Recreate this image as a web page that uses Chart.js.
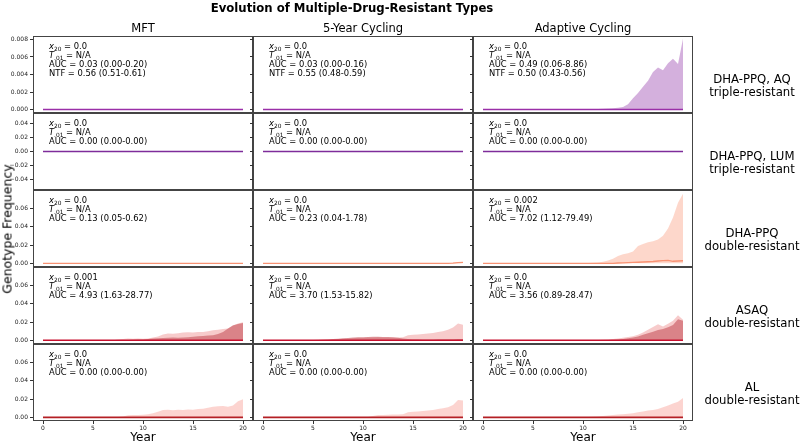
<!DOCTYPE html>
<html>
<head>
<meta charset="utf-8">
<script src="https://cdn.jsdelivr.net/npm/chart.js"></script>
<style>
  body { margin: 0; background: #fff; font-family: "DejaVu Sans", sans-serif; }
  #fig { position: relative; width: 800px; height: 443px; overflow: hidden; }
  #fig canvas { position: absolute; }
  .lbl { position: absolute; white-space: nowrap; color: #000; transform: translate(-50%, -50%); text-align: center; }
</style>
</head>
<body>
<div id="fig"></div>
<script>
// ---- data ----
const YEARS = [0,0.5,1,1.5,2,2.5,3,3.5,4,4.5,5,5.5,6,6.5,7,7.5,8,8.5,9,9.5,10,
  10.5,11,11.5,12,12.5,13,13.5,14,14.5,15,15.5,16,16.5,17,17.5,18,18.5,19,19.5,20];
const ZERO = [0,0,0,0,0,0,0,0,0,0,0,0,0,0,0,0,0,0,0,0,0,
  0,0,0,0,0,0,0,0,0,0,0,0,0,0,0,0,0,0,0,0];

const STRATEGIES = ['MFT', '5-Year Cycling', 'Adaptive Cycling'];
const GENOTYPES = [
  ['DHA-PPQ, AQ', 'triple-resistant'],
  ['DHA-PPQ, LUM', 'triple-resistant'],
  ['DHA-PPQ', 'double-resistant'],
  ['ASAQ', 'double-resistant'],
  ['AL', 'double-resistant']
];
const X_TICKS = [0, 5, 10, 15, 20];
const Y_TICKS = [
  [0, 0.002, 0.004, 0.006, 0.008],
  [-0.04, -0.02, 0, 0.02, 0.04],
  [0, 0.02, 0.04, 0.06],
  [0, 0.02, 0.04, 0.06],
  [0, 0.02, 0.04, 0.06]
];
const Y_RANGE = [[-0.0004, 0.0084], [-0.055, 0.055], [-0.004, 0.08], [-0.004, 0.08], [-0.004, 0.08]];
const Y_DEC = [3, 2, 2, 2, 2];

const X20 = [
  ['0.0', '0.0', '0.0'],
  ['0.0', '0.0', '0.0'],
  ['0.0', '0.0', '0.002'],
  ['0.001', '0.0', '0.0'],
  ['0.0', '0.0', '0.0']
];
const AUC = [
  ['0.03 (0.00-0.20)', '0.03 (0.00-0.16)', '0.49 (0.06-8.86)'],
  ['0.00 (0.00-0.00)', '0.00 (0.00-0.00)', '0.00 (0.00-0.00)'],
  ['0.13 (0.05-0.62)', '0.23 (0.04-1.78)', '7.02 (1.12-79.49)'],
  ['4.93 (1.63-28.77)', '3.70 (1.53-15.82)', '3.56 (0.89-28.47)'],
  ['0.00 (0.00-0.00)', '0.00 (0.00-0.00)', '0.00 (0.00-0.00)']
];
const NTF = ['0.56 (0.51-0.61)', '0.55 (0.48-0.59)', '0.50 (0.43-0.56)'];

// DHA-PPQ, AQ triple - adaptive cycling upper band
const AQ_ADAPT_HI = [0,0,0,0,0,0,0,0,0,0,0,0,0,0,0,0,0,0,0,0,0,
  0.00002,0.00004,0.00006,0.0001,0.00012,0.00015,0.0002,0.0003,0.0006,0.0013,
  0.0019,0.0026,0.0033,0.0043,0.0048,0.0045,0.0053,0.0058,0.0052,0.0081];

// DHA-PPQ double
const PPQ_MFT_HI = [0,0,0,0,0,0,0,0,0,0,0,0,0,0,0,0,0,0,0,0,0,
  0,0,0,0,0,0,0,0,0,0,0,0,0,0,0,0,0.0002,0.0003,0.0004,0.0005];
const PPQ_CYC_HI = [0,0,0,0,0,0,0,0,0,0,0,0,0,0,0,0,0,0,0,0,0,
  0,0,0,0,0,0,0,0,0,0,0,0,0,0,0,0,0.0003,0.0006,0.0012,0.0015];
const PPQ_CYC_MED = [0,0,0,0,0,0,0,0,0,0,0,0,0,0,0,0,0,0,0,0,0,
  0,0,0,0,0,0,0,0,0,0,0,0,0,0,0,0,0,0.0002,0.0008,0.001];
const PPQ_ADAPT_HI = [0,0,0,0,0,0,0,0,0,0,0,0,0,0,0,0,0,0,0,0,0,
  0.0003,0.0006,0.001,0.0018,0.003,0.005,0.008,0.010,0.011,0.013,
  0.019,0.021,0.023,0.024,0.026,0.030,0.038,0.050,0.066,0.076];
const PPQ_ADAPT_MED = [0,0,0,0,0,0,0,0,0,0,0,0,0,0,0,0,0,0,0,0,0,
  0,0,0,0,0,0,0.0003,0.0005,0.0008,0.001,
  0.0012,0.0015,0.0018,0.002,0.0025,0.003,0.0032,0.0022,0.0025,0.0028];

// ASAQ double (two genotypes)
const ASAQ_MFT_A = [0,0,0,0,0,0,0,0,0,0,0,0,0,0,0,0.0008,0.0015,0.002,0.0018,0.002,0.0018,
  0.002,0.003,0.0042,0.0065,0.0075,0.0072,0.0078,0.0085,0.0088,0.0085,
  0.009,0.0092,0.0098,0.011,0.0115,0.0125,0.013,0.016,0.0185,0.0198];
const ASAQ_MFT_B = [0,0,0,0,0,0,0,0,0,0,0,0,0,0,0,0,0.0003,0.0005,0.0006,0.0008,0.001,
  0.0015,0.002,0.0022,0.0025,0.0028,0.003,0.0028,0.003,0.0035,0.004,
  0.0044,0.0048,0.0052,0.0056,0.007,0.009,0.013,0.0165,0.0178,0.019];
const ASAQ_CYC_A = [0,0,0,0,0,0,0,0,0,0.0003,0.0005,0.0007,0.0008,0.001,0.0012,0.0015,0.0018,0.002,0.0024,0.0027,0.0029,
  0.003,0.0032,0.0033,0.0032,0.003,0.0032,0.003,0.0035,0.0055,0.0062,
  0.0065,0.007,0.0074,0.008,0.009,0.0098,0.0115,0.014,0.0185,0.017];
const ASAQ_CYC_B = [0,0,0,0,0,0,0,0,0,0,0,0.0003,0.0006,0.001,0.0014,0.0018,0.0022,0.0026,0.003,0.0033,0.0035,
  0.0037,0.0038,0.0038,0.0036,0.0036,0.0033,0.0028,0.002,0.0015,0.0012,
  0.0011,0.001,0.001,0.001,0.0011,0.0012,0.0012,0.0013,0.0015,0.0015];
const ASAQ_ADAPT_A = [0,0,0,0,0,0,0,0,0,0,0,0,0,0,0,0,0,0,0,0,0,
  0,0,0.0003,0.0006,0.001,0.0014,0.002,0.0028,0.0036,0.0045,
  0.006,0.0085,0.0115,0.0145,0.0175,0.015,0.018,0.0215,0.0275,0.0225];
const ASAQ_ADAPT_B = [0,0,0,0,0,0,0,0,0,0,0,0,0,0,0,0,0,0,0,0,0,
  0,0,0,0,0.0003,0.0006,0.001,0.0015,0.0022,0.003,
  0.0042,0.006,0.0078,0.0095,0.0112,0.0125,0.0142,0.0167,0.023,0.0215];

// AL double
const AL_MFT_HI = [0,0,0,0,0,0,0,0,0,0,0,0,0,0,0,0.0005,0.001,0.0022,0.0026,0.0025,0.0027,
  0.0035,0.0045,0.006,0.008,0.0082,0.0078,0.0082,0.008,0.0085,0.0082,
  0.009,0.0095,0.0105,0.0115,0.012,0.0125,0.0115,0.013,0.0175,0.0198];
const AL_CYC_HI = [0,0,0,0,0,0,0,0,0,0,0,0,0,0,0,0,0,0,0,0,0,
  0.0005,0.0015,0.0025,0.0026,0.0028,0.003,0.0032,0.0035,0.0055,0.0062,
  0.0065,0.007,0.0074,0.008,0.0092,0.0098,0.011,0.0135,0.019,0.0185];
const AL_ADAPT_HI = [0,0,0,0,0,0,0,0,0,0,0,0,0,0,0,0,0,0,0,0,0,
  0.0003,0.0006,0.001,0.0015,0.002,0.0025,0.003,0.0035,0.004,0.0045,
  0.0055,0.0065,0.0075,0.008,0.009,0.011,0.013,0.015,0.017,0.021];

// median + bands (bands listed back to front)
const SERIES = [
  [{median: ZERO, bands: []}, {median: ZERO, bands: []}, {median: ZERO, bands: [AQ_ADAPT_HI]}],
  [{median: ZERO, bands: []}, {median: ZERO, bands: []}, {median: ZERO, bands: []}],
  [{median: ZERO, bands: [PPQ_MFT_HI]}, {median: PPQ_CYC_MED, bands: [PPQ_CYC_HI]}, {median: PPQ_ADAPT_MED, bands: [PPQ_ADAPT_HI]}],
  [{median: ZERO, bands: [ASAQ_MFT_A, ASAQ_MFT_B]}, {median: ZERO, bands: [ASAQ_CYC_A, ASAQ_CYC_B]}, {median: ZERO, bands: [ASAQ_ADAPT_A, ASAQ_ADAPT_B]}],
  [{median: ZERO, bands: [AL_MFT_HI]}, {median: ZERO, bands: [AL_CYC_HI]}, {median: ZERO, bands: [AL_ADAPT_HI]}]
];

// ---- styling / layout ----
const ROW_STYLE = [
  {line: '#9a2fa8', lw: 1.6, fills: ['rgba(160,80,180,0.45)']},
  {line: '#7e2c9a', lw: 1.6, fills: []},
  {line: '#f79273', lw: 1.4, fills: ['rgba(250,160,130,0.42)']},
  {line: '#c8102e', lw: 1.5, fills: ['rgba(238,140,140,0.45)', 'rgba(185,45,55,0.45)']},
  {line: '#b41f24', lw: 1.7, fills: ['rgba(248,160,150,0.45)']}
];
const COL_LEFT = [33, 253, 473];
const COL_W = 220;
const ROW_TOP = [36, 113, 190, 267, 344];
const ROW_H = 77;
const AX_W = 33;
const X_H = 14;
const FONT = '"DejaVu Sans", sans-serif';

const fig = document.getElementById('fig');

function addLabel(text, x, y, css) {
  const d = document.createElement('div');
  d.className = 'lbl';
  d.innerHTML = text;
  d.style.left = x + 'px';
  d.style.top = y + 'px';
  Object.assign(d.style, css || {});
  fig.appendChild(d);
}

function fmt(v, dec) {
  return (v < 0 ? '\u2212' : '') + Math.abs(v).toFixed(dec);
}

const frame = {
  id: 'frame',
  afterDraw(chart) {
    const {ctx, chartArea: a} = chart;
    ctx.save();
    ctx.strokeStyle = '#444';
    ctx.lineWidth = 1;
    ctx.strokeRect(Math.round(a.left) + 0.5, Math.round(a.top) + 0.5,
      Math.round(a.right - a.left) - 1, Math.round(a.bottom - a.top) - 1);
    ctx.restore();
  }
};

const statsText = {
  id: 'statsText',
  afterDraw(chart, args, opts) {
    const {ctx, chartArea: a} = chart;
    const r = opts.r, c = opts.c;
    const fs = 8.4;
    const x0 = a.left + 16;
    let y = a.top + 13;
    ctx.save();
    ctx.fillStyle = '#000';
    ctx.textBaseline = 'alphabetic';
    ctx.textAlign = 'left';
    function sub(main, s, rest) {
      let x = x0;
      ctx.font = 'italic ' + fs + 'px ' + FONT;
      ctx.fillText(main, x, y);
      x += ctx.measureText(main).width;
      ctx.font = (fs * 0.7) + 'px ' + FONT;
      ctx.fillText(s, x, y + 2);
      x += ctx.measureText(s).width;
      ctx.font = fs + 'px ' + FONT;
      ctx.fillText(rest, x, y);
    }
    sub('x', '20', ' = ' + X20[r][c]);
    y += 9;
    sub('T', '.01', ' = N/A');
    y += 9;
    ctx.font = fs + 'px ' + FONT;
    ctx.fillText('AUC = ' + AUC[r][c], x0, y);
    if (r === 0) {
      y += 9;
      ctx.fillText('NTF = ' + NTF[c], x0, y);
    }
    ctx.restore();
  }
};

function makePanel(r, c) {
  const bottom = r === SERIES.length - 1;
  const W = AX_W + COL_W, H = ROW_H + (bottom ? X_H : 0);
  const cv = document.createElement('canvas');
  cv.width = W; cv.height = H;
  cv.style.left = (COL_LEFT[c] - AX_W) + 'px';
  cv.style.top = ROW_TOP[r] + 'px';
  cv.style.width = W + 'px';
  cv.style.height = H + 'px';
  fig.appendChild(cv);

  const s = SERIES[r][c], st = ROW_STYLE[r];
  const pts = arr => YEARS.map((x, i) => ({x: x, y: arr[i]}));
  const datasets = [{
    data: pts(s.median), borderColor: st.line, borderWidth: st.lw,
    pointRadius: 0, fill: false
  }];
  for (let k = s.bands.length - 1; k >= 0; k--) {
    datasets.push({
      data: pts(s.bands[k]), borderColor: 'rgba(0,0,0,0)', borderWidth: 0,
      pointRadius: 0, backgroundColor: st.fills[k], fill: 'origin'
    });
  }

  const grid = {drawOnChartArea: false, drawTicks: true, tickLength: 3, color: '#333'};
  const tickFont = {size: 6, family: FONT};

  new Chart(cv, {
    type: 'line',
    data: {datasets: datasets},
    options: {
      responsive: false,
      animation: false,
      events: [],
      layout: {padding: 0},
      plugins: {legend: {display: false}, tooltip: {enabled: false}, statsText: {r: r, c: c}},
      scales: {
        x: {
          type: 'linear', min: -1, max: 21, display: bottom,
          afterBuildTicks: sc => { sc.ticks = X_TICKS.map(v => ({value: v})); },
          afterFit: sc => { if (bottom) sc.height = X_H; sc.paddingLeft = 0; sc.paddingRight = 0; },
          grid: grid, border: {display: false},
          ticks: {font: tickFont, color: '#222', padding: 1, maxRotation: 0, autoSkip: false, callback: v => String(v)}
        },
        y: {
          min: Y_RANGE[r][0], max: Y_RANGE[r][1],
          afterBuildTicks: sc => { sc.ticks = Y_TICKS[r].map(v => ({value: v})); },
          afterFit: sc => { sc.width = AX_W; sc.paddingTop = 0; sc.paddingBottom = 0; },
          grid: grid, border: {display: false},
          ticks: {display: c === 0, font: tickFont, color: '#222', padding: 2, autoSkip: false, callback: v => fmt(v, Y_DEC[r])}
        }
      }
    },
    plugins: [frame, statsText]
  });
}

for (let r = 0; r < SERIES.length; r++) {
  for (let c = 0; c < STRATEGIES.length; c++) makePanel(r, c);
}

// ---- figure texts ----
addLabel('Evolution of Multiple-Drug-Resistant Types', 352, 8, {fontWeight: 'bold', fontSize: '11.7px'});
STRATEGIES.forEach((t, c) => {
  const cx = COL_LEFT[c] + COL_W / 2;
  addLabel(t, cx, 28, {fontSize: '11.5px'});
  addLabel('Year', cx, 437, {fontSize: '12px'});
});
GENOTYPES.forEach((g, r) => {
  addLabel(g[0] + '<br>' + g[1], 752, ROW_TOP[r] + ROW_H / 2 + 11.5, {fontSize: '11.7px', lineHeight: '13px'});
});
addLabel('Genotype Frequency', 6.5, 229, {fontSize: '12.5px', transform: 'translate(-50%, -50%) rotate(-90deg)'});
</script>
</body>
</html>
